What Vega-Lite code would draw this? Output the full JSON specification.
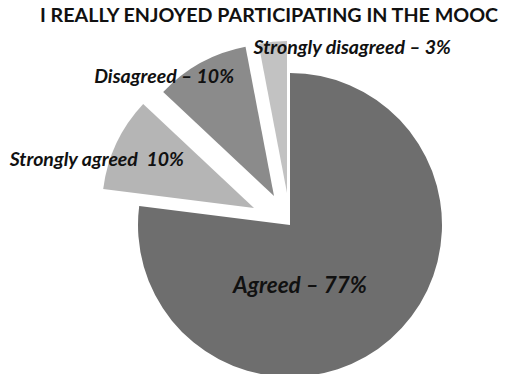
{
  "$schema": "https://vega.github.io/schema/vega-lite/v6.json",
  "autosize": "none",
  "width": 304,
  "height": 304,
  "padding": {"left": 138, "top": 73, "right": 67, "bottom": 0},
  "background": "white",
  "title": {
    "text": "I REALLY ENJOYED PARTICIPATING IN THE MOOC",
    "font": "Lato",
    "fontSize": 19.7,
    "fontWeight": "bold",
    "color": "#111111",
    "anchor": "middle",
    "frame": "group",
    "dx": -21,
    "offset": 12
  },
  "data": {
    "values": [
      {"category": "Agreed", "label": "Agreed – 77%", "value": 77, "order": 1},
      {"category": "Strongly agreed", "label": "Strongly agreed \u00a010%", "value": 10, "order": 2},
      {"category": "Disagreed", "label": "Disagreed – 10%", "value": 10, "order": 3},
      {"category": "Strongly disagreed", "label": "Strongly disagreed – 3%", "value": 3, "order": 4}
    ]
  },
  "transform": [
    {"stack": "value", "groupby": [], "sort": [{"field": "order", "order": "ascending"}], "as": ["start", "end"]}
  ],
  "encoding": {
    "theta": {"field": "start", "type": "quantitative", "scale": {"domain": [0, 100], "range": [0, 6.283185307179586]}},
    "theta2": {"field": "end"}
  },
  "config": {"view": {"stroke": null}, "text": {"font": "Lato", "fontSize": 19.5, "fontWeight": "bold", "fontStyle": "italic", "color": "#111111"}},
  "layer": [
    {
      "transform": [{"filter": "datum.category === 'Agreed'"}],
      "mark": {"type": "arc", "color": "#6e6e6e"}
    },
    {
      "transform": [{"filter": "datum.category === 'Strongly agreed'"}],
      "mark": {"type": "arc", "color": "#b5b5b5", "xOffset": -36, "yOffset": -17}
    },
    {
      "transform": [{"filter": "datum.category === 'Disagreed'"}],
      "mark": {"type": "arc", "color": "#8b8b8b", "xOffset": -16, "yOffset": -29}
    },
    {
      "transform": [{"filter": "datum.category === 'Strongly disagreed'"}],
      "mark": {"type": "arc", "color": "#c2c2c2", "xOffset": -3, "yOffset": -32}
    },
    {
      "transform": [{"filter": "datum.category === 'Agreed'"}],
      "mark": {"type": "text", "radius": 0, "dx": 10, "dy": 61, "fontSize": 22.5},
      "encoding": {"text": {"field": "label"}}
    },
    {
      "transform": [{"filter": "datum.category === 'Strongly agreed'"}],
      "mark": {"type": "text", "radius": 100, "dx": -94, "dy": -52},
      "encoding": {"text": {"field": "label"}}
    },
    {
      "transform": [{"filter": "datum.category === 'Disagreed'"}],
      "mark": {"type": "text", "radius": 100, "dx": -53, "dy": -80},
      "encoding": {"text": {"field": "label"}}
    },
    {
      "transform": [{"filter": "datum.category === 'Strongly disagreed'"}],
      "mark": {"type": "text", "radius": 100, "dx": 81, "dy": -79},
      "encoding": {"text": {"field": "label"}}
    }
  ]
}
